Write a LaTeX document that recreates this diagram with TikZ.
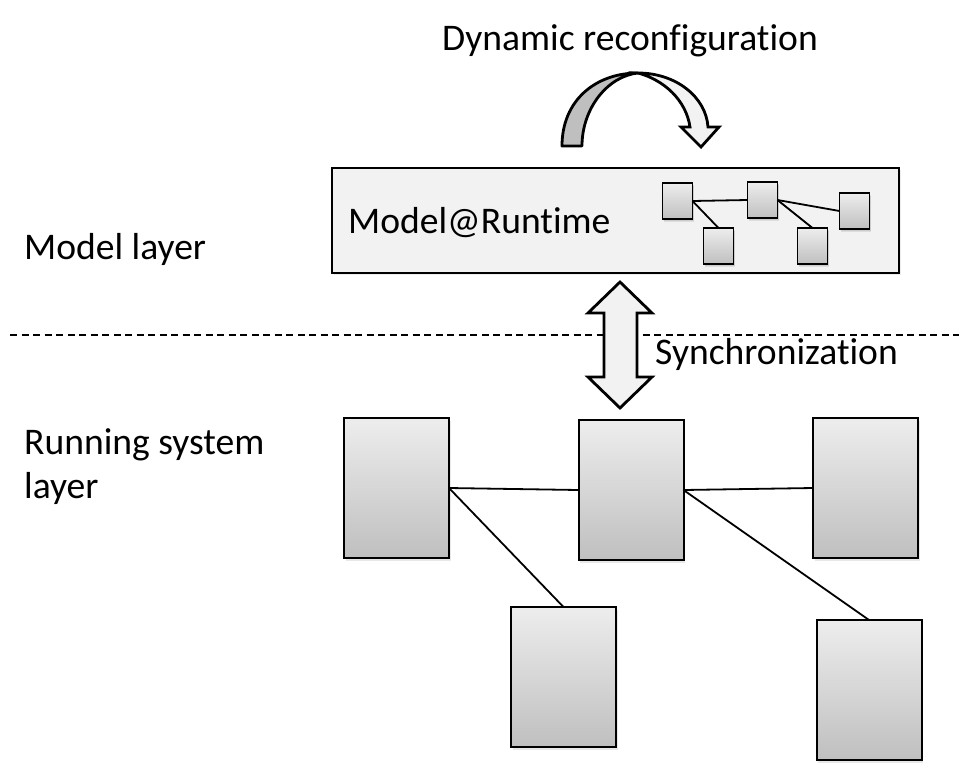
\documentclass[tikz,border=0pt]{standalone}
\usepackage{fontspec}
\setmainfont{Carlito}[Ligatures={NoCommon,NoContextual}, RawFeature={-liga,-clig,-calt,-dlig}]
\usetikzlibrary{shadows}
\tikzset{
  comp/.style={draw, line width=2pt, top color=black!7, bottom color=black!25,
    inner sep=0pt, outer sep=0pt, minimum width=105pt, minimum height=140pt,
    drop shadow={opacity=0.18, shadow xshift=1.5pt, shadow yshift=-2.5pt}},
  minicomp/.style={comp, line width=1.8pt, minimum width=30pt, minimum height=36pt,
    drop shadow={opacity=0.18, shadow xshift=1pt, shadow yshift=-1.5pt}},
  wire/.style={line width=1.8pt},
  lbl/.style={font=\fontsize{37.6}{44}\selectfont, inner sep=0pt}
}
\begin{document}
\begin{tikzpicture}[x=1pt, y=-1pt]
        \useasboundingbox (0,0) rectangle (959,772);

        \node[lbl, anchor=base west] (dyn) at (442, 50) {Dynamic reconfiguration};
        \node[lbl, anchor=base west] (mlay) at (24, 259) {Model layer};
        \node[lbl, anchor=base west, align=left] (rlay) at (24, 498) {Running system\\[0pt]layer};

        % dynamic reconfiguration arrow
        \draw [line width=2.8pt, line join=round, fill=black!25]
          (562,146) .. controls (562,100) and (596,73) .. (638,73)
          .. controls (608,76) and (582,108) .. (582,146) -- cycle;
        \draw [line width=2.8pt, line join=miter, fill=black!5]
          (638,73) .. controls (676,73) and (706,97) .. (708,127) -- (719,127) -- (701,147)
          -- (681,127) -- (690,127) .. controls (686,100) and (664,80) .. (638,73) -- cycle;

        % model layer
        \node[draw, line width=1.8pt, fill=black!5, minimum width=567pt, minimum height=105pt,
          inner sep=0pt, outer sep=0pt,
          drop shadow={opacity=0.15, shadow xshift=1.5pt, shadow yshift=-2pt}] (mrt) at (615.5, 220.5) {};
        \node[lbl, anchor=base west] (mrttxt) at (348, 233) {Model@Runtime};

        \node[minicomp] (m1) at (677.5, 201) {};
        \node[minicomp] (m2) at (718.5, 246) {};
        \node[minicomp] (m3) at (762.5, 200) {};
        \node[minicomp] (m4) at (812.5, 246) {};
        \node[minicomp] (m5) at (854.5, 211) {};
        \draw [wire] (m1.east) -- (m3.west);
        \draw [wire] (m1.east) -- (m2.north);
        \draw [wire] (m3.east) -- (m5.west);
        \draw [wire] (m3.east) -- (m4.north);

        % layer border
        \draw [dashed, dash pattern=on 7pt off 4.5pt, line width=1.2pt] (10, 335) -- (959, 335);

        % synchronization arrow
        \draw [line width=2.8pt, line join=miter, fill=black!5]
          (620,282) -- (652,313) -- (637,313) -- (637,377) -- (652,377) -- (620,408)
          -- (588,377) -- (604,377) -- (604,313) -- (588,313) -- cycle;
        \node[lbl, anchor=base west] (sync) at (655, 364) {Synchronization};

        % running system
        \node[comp] (a) at (396.5, 488) {};
        \node[comp] (b) at (631, 490) {};
        \node[comp] (c) at (865.5, 488) {};
        \node[comp] (d) at (563.5, 677) {};
        \node[comp] (e) at (869, 690) {};
        \draw [wire] (a.east) -- (b.west);
        \draw [wire] (a.east) -- (d.north);
        \draw [wire] (b.east) -- (c.west);
        \draw [wire] (b.east) -- (e.north);
      \end{tikzpicture}
\end{document}
